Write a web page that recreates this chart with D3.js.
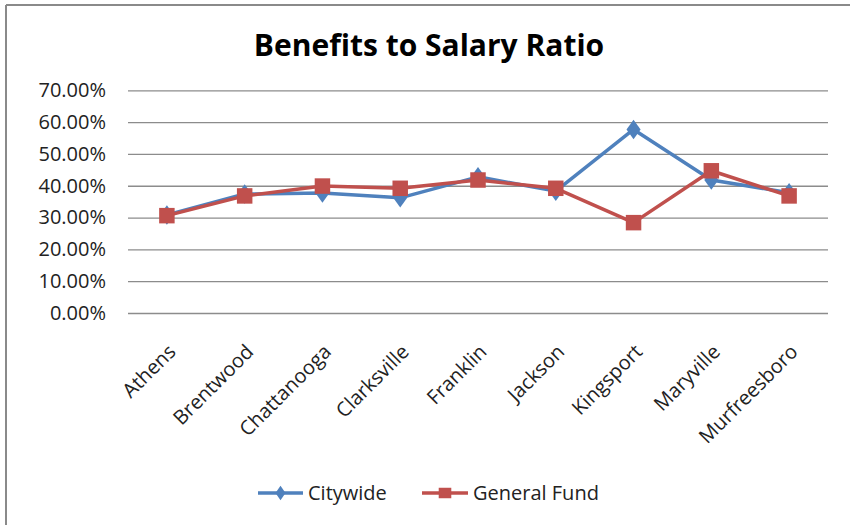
<!DOCTYPE html>
<html>
<head>
<meta charset="utf-8">
<script src="https://cdn.jsdelivr.net/npm/d3@7"></script>
<style>
  html, body { margin: 0; padding: 0; background: #fff; }
  svg { display: block; }
  text { font-family: "Open Sans", sans-serif; fill: #222; }
</style>
</head>
<body>
<svg id="chart" width="850" height="525"></svg>
<script>
// Benefits-to-salary ratios by city
const cities = ["Athens", "Brentwood", "Chattanooga", "Clarksville", "Franklin",
                "Jackson", "Kingsport", "Maryville", "Murfreesboro"];
const citywide    = [0.308, 0.374, 0.377, 0.362, 0.428, 0.383, 0.577, 0.418, 0.378];
const generalFund = [0.306, 0.368, 0.399, 0.392, 0.418, 0.392, 0.284, 0.447, 0.368];
const yTicks = [0, 0.1, 0.2, 0.3, 0.4, 0.5, 0.6, 0.7];
const seriesNames = ["Citywide", "General Fund"];
const seriesColors = ["#4F81BD", "#C0504D"];

const FONT = "'Open Sans', sans-serif";
const svg = d3.select("#chart");

// chart frame (top and left edges)
svg.append("line").attr("x1", 6).attr("y1", 5).attr("x2", 850).attr("y2", 5)
  .attr("stroke", "#8a8a8a").attr("stroke-width", 2);
svg.append("line").attr("x1", 6).attr("y1", 5).attr("x2", 6).attr("y2", 525)
  .attr("stroke", "#8a8a8a").attr("stroke-width", 2);

const plot = { left: 128, right: 828, top: 90.3, bottom: 313 };

const x = d3.scaleBand().domain(cities).range([plot.left, plot.right]);
const y = d3.scaleLinear().domain([0, 0.7]).range([plot.bottom, plot.top]);
const cx = c => x(c) + x.bandwidth() / 2;

// title
svg.append("text")
  .attr("x", 429).attr("y", 56)
  .attr("text-anchor", "middle")
  .style("font-family", FONT)
  .style("font-size", "30px").style("font-weight", "bold").style("fill", "#000")
  .text("Benefits to Salary Ratio");

// horizontal gridlines + y labels
const yAxis = d3.axisLeft(y)
  .tickValues(yTicks)
  .tickFormat(d3.format(".2%"))
  .tickSize(-(plot.right - plot.left))
  .tickPadding(22);
const gy = svg.append("g").attr("transform", `translate(${plot.left},0)`).call(yAxis);
gy.select(".domain").remove();
gy.selectAll(".tick line").attr("stroke", "#8c8c8c").attr("stroke-width", 1.3);
gy.selectAll(".tick text").style("font-size", "20px").style("fill", "#222")
  .style("font-family", FONT);

// category labels, rotated
const xAxis = d3.axisBottom(x).tickSize(0).tickPadding(0);
const gx = svg.append("g").attr("transform", `translate(0,${plot.bottom})`).call(xAxis);
gx.select(".domain").remove();
gx.selectAll(".tick text")
  .attr("text-anchor", "end")
  .attr("dy", 0).attr("y", 0)
  .attr("transform", "translate(10,40) rotate(-45)")
  .style("font-size", "20px").style("fill", "#222")
  .style("font-family", FONT);

const line = d3.line().x((d, i) => cx(cities[i])).y(d => y(d));

const diamond = d3.symbol().type(d3.symbolDiamond).size(110);
const square = d3.symbol().type(d3.symbolSquare).size(240);

// Citywide series
svg.append("path").datum(citywide)
  .attr("d", line).attr("fill", "none")
  .attr("stroke", seriesColors[0]).attr("stroke-width", 3.5).attr("stroke-linejoin", "round");
svg.append("g").selectAll("path").data(citywide).join("path")
  .attr("transform", (d, i) => `translate(${cx(cities[i])},${y(d)}) scale(1.25,1)`)
  .attr("d", diamond).attr("fill", seriesColors[0]);

// General Fund series
svg.append("path").datum(generalFund)
  .attr("d", line).attr("fill", "none")
  .attr("stroke", seriesColors[1]).attr("stroke-width", 3.5).attr("stroke-linejoin", "round");
svg.append("g").selectAll("path").data(generalFund).join("path")
  .attr("transform", (d, i) => `translate(${cx(cities[i])},${y(d)})`)
  .attr("d", square).attr("fill", seriesColors[1]);

// legend
const legend = [
  { name: seriesNames[0], color: seriesColors[0], x1: 258, x2: 303, tx: 308, sym: d3.symbol().type(d3.symbolDiamond).size(60) },
  { name: seriesNames[1], color: seriesColors[1], x1: 422, x2: 468, tx: 473, sym: d3.symbol().type(d3.symbolSquare).size(110) }
];
const ly = 493;
const lg = svg.append("g");
legend.forEach(l => {
  lg.append("line").attr("x1", l.x1).attr("x2", l.x2).attr("y1", ly).attr("y2", ly)
    .attr("stroke", l.color).attr("stroke-width", 3.5);
  lg.append("path").attr("d", l.sym)
    .attr("transform", `translate(${(l.x1 + l.x2) / 2},${ly}) scale(1.2,1)`)
    .attr("fill", l.color);
  lg.append("text").attr("x", l.tx).attr("y", ly + 7)
    .style("font-family", FONT)
    .style("font-size", "20px").style("fill", "#222")
    .text(l.name);
});
</script>
</body>
</html>
